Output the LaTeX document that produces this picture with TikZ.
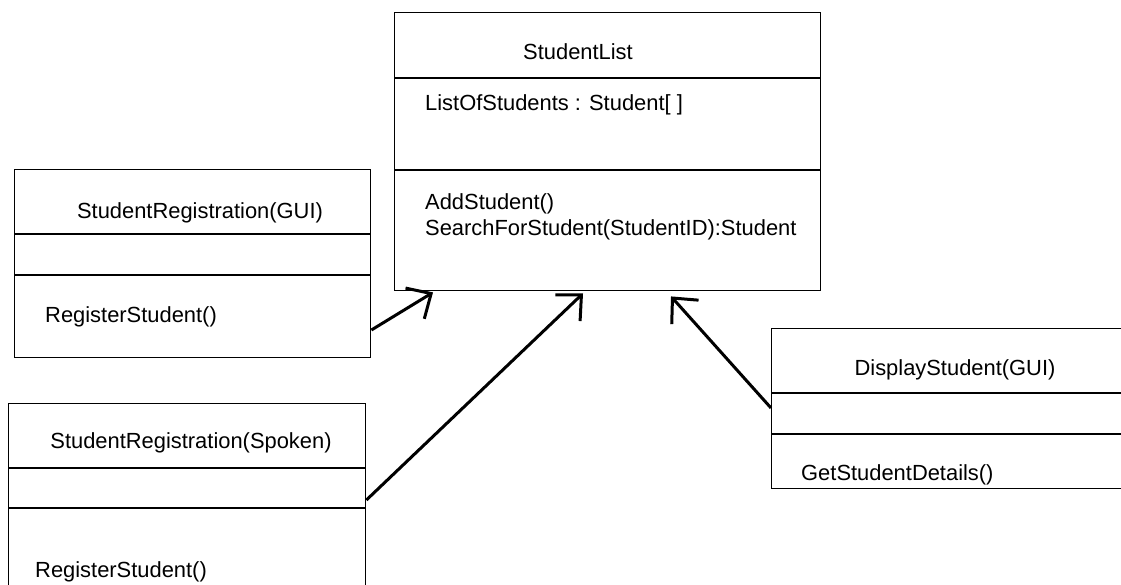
\documentclass[tikz,border=0pt]{standalone}
\usepackage{fontspec}
\setmainfont{Liberation Sans}
\usetikzlibrary{arrows.meta, calc}

\tikzset{
    classbox/.style={draw, line width=1.4pt, anchor=north west, inner sep=0pt},
    divider/.style={line width=1.4pt},
    umltext/.style={font=\fontsize{21.9}{25.5}\selectfont, inner sep=0pt, align=left},
    assoc/.style={line width=3pt, -{Straight Barb[length=19pt, width=36pt, line width=3pt]}}
}

\begin{document}
\begin{tikzpicture}[x=1pt, y=-1pt]

    \useasboundingbox (0,0) rectangle (1121,585);
    \clip (0,0) rectangle (1121,585);

    % ===== StudentList =====
    \node[classbox, minimum width=426pt, minimum height=278pt] (list) at (394,12) {};
    \draw[divider] (list.west |- 0,78) -- (list.east |- 0,78);
    \draw[divider] (list.west |- 0,170) -- (list.east |- 0,170);
    \node[umltext] (listname) at (578,52) {StudentList};
    \node[umltext, anchor=west] (listattr) at (425,105) {ListOfStudents : Student[ ]};
    \node[umltext, anchor=west] (listops) at (425,217) {AddStudent()\\SearchForStudent(StudentID):Student};

    % ===== StudentRegistration(GUI) =====
    \node[classbox, minimum width=356pt, minimum height=188pt] (gui) at (14,169) {};
    \draw[divider] (gui.west |- 0,234) -- (gui.east |- 0,234);
    \draw[divider] (gui.west |- 0,275) -- (gui.east |- 0,275);
    \node[umltext] (guiname) at (200,213) {StudentRegistration(GUI)};
    \node[umltext, anchor=west] (guiops) at (45,317) {RegisterStudent()};

    % ===== StudentRegistration(Spoken) =====
    \node[classbox, minimum width=357pt, minimum height=200pt] (spoken) at (8,403) {};
    \draw[divider] (spoken.west |- 0,468) -- (spoken.east |- 0,468);
    \draw[divider] (spoken.west |- 0,508) -- (spoken.east |- 0,508);
    \node[umltext] (spokenname) at (191,443) {StudentRegistration(Spoken)};
    \node[umltext, anchor=west] (spokenops) at (35,572) {RegisterStudent()};

    % ===== DisplayStudent(GUI) =====
    \node[classbox, minimum width=370pt, minimum height=160pt] (display) at (771,328) {};
    \draw[divider] (display.west |- 0,393) -- (display.east |- 0,393);
    \draw[divider] (display.west |- 0,434) -- (display.east |- 0,434);
    \node[umltext] (displayname) at (955,370) {DisplayStudent(GUI)};
    \node[umltext, anchor=west] (displayops) at (801,475) {GetStudentDetails()};

    % ===== Associations =====
    \draw[assoc] (gui.east |- 0,330) -- ([xshift=39pt, yshift=-1pt]list.south west);
    \draw[assoc] (spoken.east |- 0,500) -- ([xshift=189pt, yshift=-2pt]list.south west);
    \draw[assoc] (display.west |- 0,408) -- ([xshift=277pt, yshift=-5pt]list.south west);

\end{tikzpicture}
\end{document}
